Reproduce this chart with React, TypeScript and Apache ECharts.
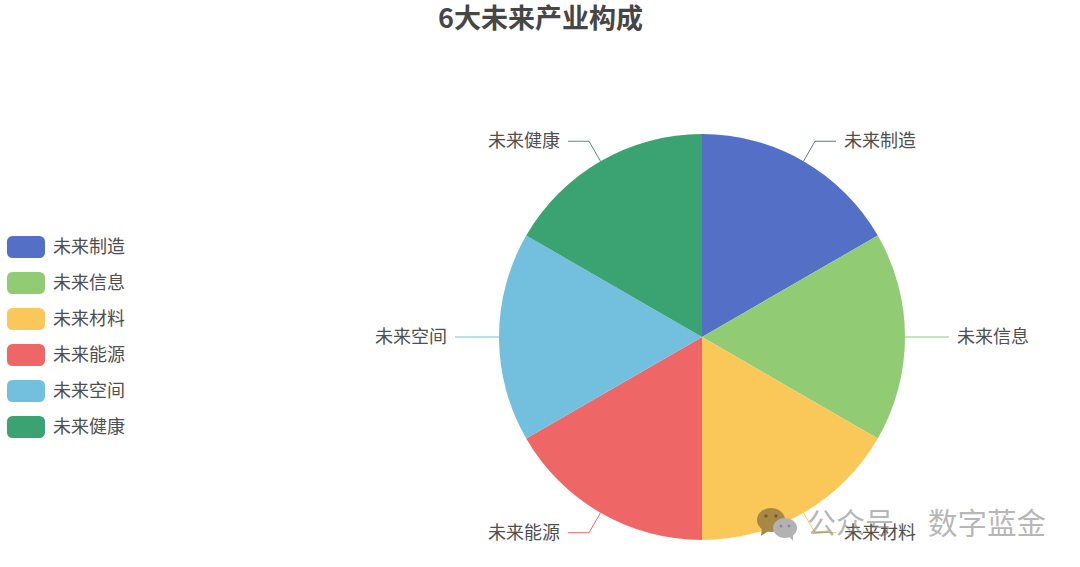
import React, { useEffect, useRef } from "react";
import * as echarts from "echarts";

const categories = ["未来制造", "未来信息", "未来材料", "未来能源", "未来空间", "未来健康"];
const values = [1, 1, 1, 1, 1, 1];
const colors = ["#5470c6", "#91cc75", "#fac858", "#ee6666", "#73c0de", "#3ba272"];
const title = "6大未来产业构成";
const watermarkAccount = "公众号";
const watermarkName = "数字蓝金";
const font = "Noto Sans CJK SC";

const raised = { fontSize: 18, color: "#4f4f4f", fontFamily: font, padding: [0, 0, 4, 0] };
const raisedLegend = { ...raised, padding: [0, 0, 4, 3] };

export default function App() {
  const ref = useRef<HTMLDivElement>(null);
  useEffect(() => {
    const chart = echarts.init(ref.current!, null, { renderer: "svg" });
    chart.setOption({
      animation: false,
      color: colors,
      textStyle: { fontFamily: font },
      title: {
        text: title,
        left: 438,
        top: 3,
        padding: 0,
        textStyle: { fontSize: 27, fontWeight: "bold", color: "#464646", fontFamily: font },
      },
      legend: {
        orient: "vertical",
        left: 2,
        top: 231,
        itemWidth: 38,
        itemHeight: 22,
        itemGap: 14,
        data: categories,
        formatter: "{a|{name}}",
        textStyle: { fontSize: 18, color: "#4f4f4f", fontFamily: font, rich: { a: raisedLegend } },
      },
      series: [
        {
          type: "pie",
          center: [702, 337],
          radius: [0, 203],
          startAngle: 90,
          data: categories.map((name, i) => ({ name, value: values[i] })),
          label: {
            formatter: "{a|{b}}",
            fontSize: 18,
            color: "#4f4f4f",
            fontFamily: font,
            distanceToLabelLine: 8,
            rich: { a: raised },
          },
          labelLine: { length: 23, length2: 21, lineStyle: { width: 1 } },
        },
      ],
      graphic: [
        { type: "ellipse", z: 100, shape: { cx: 771, cy: 520, rx: 14, ry: 12 }, style: { fill: "#a98845" } },
        { type: "polygon", z: 100, shape: { points: [[762, 527], [761, 536], [770, 530]] }, style: { fill: "#a98845" } },
        { type: "circle", z: 101, shape: { cx: 766, cy: 516, r: 1.6 }, style: { fill: "#6f5a2c" } },
        { type: "circle", z: 101, shape: { cx: 776, cy: 516, r: 1.6 }, style: { fill: "#6f5a2c" } },
        { type: "ellipse", z: 102, shape: { cx: 785, cy: 528, rx: 12, ry: 10 }, style: { fill: "#b2b2b2" } },
        { type: "polygon", z: 102, shape: { points: [[788, 535], [793, 541], [793, 533]] }, style: { fill: "#b2b2b2" } },
        { type: "circle", z: 103, shape: { cx: 781, cy: 526, r: 1.4 }, style: { fill: "#8a8a8a" } },
        { type: "circle", z: 103, shape: { cx: 789, cy: 526, r: 1.4 }, style: { fill: "#8a8a8a" } },
        {
          type: "text",
          z: 100,
          left: 807,
          top: 506,
          style: { text: watermarkAccount, fontSize: 29, fill: "rgba(120,120,120,0.55)", fontFamily: font },
        },
        {
          type: "text",
          z: 100,
          left: 928,
          top: 506,
          style: { text: watermarkName, fontSize: 29.5, fill: "rgba(120,120,120,0.55)", fontFamily: font },
        },
      ],
    });
    return () => chart.dispose();
  }, []);
  return <div ref={ref} style={{ position: "fixed", left: 0, top: 0, width: 1080, height: 567, background: "#fff" }} />;
}
